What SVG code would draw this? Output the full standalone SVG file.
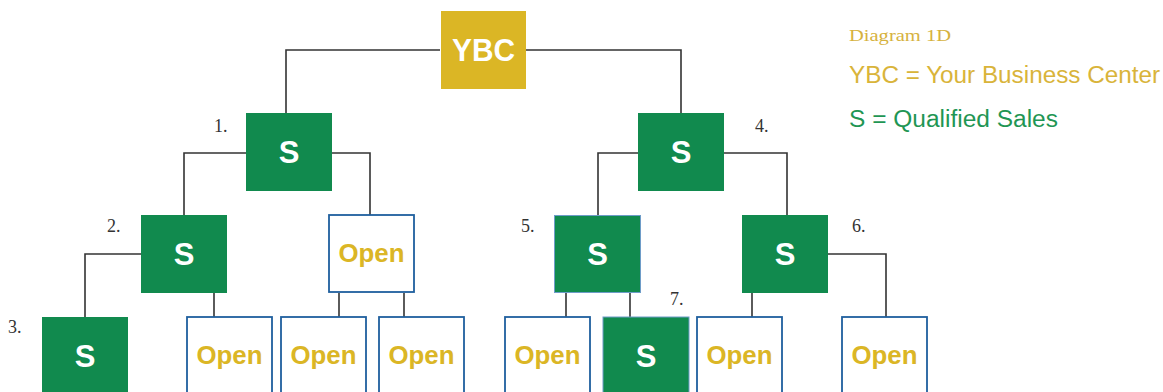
<svg xmlns="http://www.w3.org/2000/svg" width="1163" height="392" viewBox="0 0 1163 392">
  <style>
    .wire { fill: none; stroke: #333333; stroke-width: 1.6; }
    .ybc { fill: #DBB625; }
    .sale { fill: #118A4E; }
    .sale-edge { fill: #118A4E; stroke: #6E9CC8; stroke-width: 1; }
    .open { fill: #FFFFFF; stroke: #1F5F9E; stroke-width: 1.8; }
    .lbl-w { font-family: "Liberation Sans", Arial, sans-serif; font-weight: bold; fill: #FFFFFF; text-anchor: middle; }
    .lbl-o { font-family: "Liberation Sans", Arial, sans-serif; font-weight: bold; fill: #DBB625; text-anchor: middle; font-size: 26px; }
    .num { font-family: "Liberation Serif", "Times New Roman", serif; font-size: 18px; fill: #333333; }
    .legend { font-family: "Liberation Sans", Arial, sans-serif; font-size: 23px; }
  </style>

  <!-- connectors -->
  <g id="connectors">
    <path class="wire" d="M440,50 H286 V113"/>
    <path class="wire" d="M526,50 H681 V113"/>
    <path class="wire" d="M246,153 H184 V215"/>
    <path class="wire" d="M332,153 H370 V215"/>
    <path class="wire" d="M638,153 H598 V215"/>
    <path class="wire" d="M724,153 H787 V215"/>
    <path class="wire" d="M141,254 H85 V317"/>
    <path class="wire" d="M214,293 V317"/>
    <path class="wire" d="M339,293 V317"/>
    <path class="wire" d="M404,293 V317"/>
    <path class="wire" d="M566,293 V317"/>
    <path class="wire" d="M630,293 V317"/>
    <path class="wire" d="M828,254 H886 V317"/>
    <path class="wire" d="M752,293 V317"/>
  </g>

  <!-- root -->
  <g id="ybc">
    <rect class="ybc" x="441" y="11" width="85" height="78"/>
    <text class="lbl-w" x="483.5" y="61" font-size="32" textLength="63" lengthAdjust="spacingAndGlyphs">YBC</text>
  </g>

  <!-- level 1 -->
  <g id="s1">
    <rect class="sale" x="246" y="113" width="86" height="78"/>
    <text class="lbl-w" x="289" y="163" font-size="31">S</text>
  </g>
  <g id="s4">
    <rect class="sale" x="638" y="113" width="86" height="78"/>
    <text class="lbl-w" x="681" y="163" font-size="31">S</text>
  </g>

  <!-- level 2 -->
  <g id="s2">
    <rect class="sale" x="141" y="215" width="86" height="78"/>
    <text class="lbl-w" x="184" y="265" font-size="31">S</text>
  </g>
  <g id="open-a">
    <rect class="open" x="329" y="215" width="85" height="77"/>
    <text class="lbl-o" x="371.5" y="262" textLength="66" lengthAdjust="spacingAndGlyphs">Open</text>
  </g>
  <g id="s5">
    <rect class="sale-edge" x="554.5" y="215.5" width="86" height="77"/>
    <text class="lbl-w" x="597.5" y="265" font-size="31">S</text>
  </g>
  <g id="s6">
    <rect class="sale" x="742" y="215" width="86" height="78"/>
    <text class="lbl-w" x="785" y="265" font-size="31">S</text>
  </g>

  <!-- level 3 -->
  <g id="s3">
    <rect class="sale" x="42" y="317" width="86" height="80"/>
    <text class="lbl-w" x="85" y="367" font-size="31">S</text>
  </g>
  <g id="open-b">
    <rect class="open" x="187" y="317" width="85" height="80"/>
    <text class="lbl-o" x="229.5" y="364" textLength="66" lengthAdjust="spacingAndGlyphs">Open</text>
  </g>
  <g id="open-c">
    <rect class="open" x="281" y="317" width="85" height="80"/>
    <text class="lbl-o" x="323.5" y="364" textLength="66" lengthAdjust="spacingAndGlyphs">Open</text>
  </g>
  <g id="open-d">
    <rect class="open" x="379" y="317" width="85" height="80"/>
    <text class="lbl-o" x="421.5" y="364" textLength="66" lengthAdjust="spacingAndGlyphs">Open</text>
  </g>
  <g id="open-e">
    <rect class="open" x="505" y="317" width="85" height="80"/>
    <text class="lbl-o" x="547.5" y="364" textLength="66" lengthAdjust="spacingAndGlyphs">Open</text>
  </g>
  <g id="s7">
    <rect class="sale-edge" x="603" y="317" width="86" height="80"/>
    <text class="lbl-w" x="646" y="367" font-size="31">S</text>
  </g>
  <g id="open-f">
    <rect class="open" x="697" y="317" width="85" height="80"/>
    <text class="lbl-o" x="739.5" y="364" textLength="66" lengthAdjust="spacingAndGlyphs">Open</text>
  </g>
  <g id="open-g">
    <rect class="open" x="842" y="317" width="85" height="80"/>
    <text class="lbl-o" x="884.5" y="364" textLength="66" lengthAdjust="spacingAndGlyphs">Open</text>
  </g>

  <!-- sequence numbers -->
  <g id="numbers">
    <text class="num" x="214" y="132">1.</text>
    <text class="num" x="107" y="232">2.</text>
    <text class="num" x="8" y="333">3.</text>
    <text class="num" x="755" y="132">4.</text>
    <text class="num" x="521" y="232">5.</text>
    <text class="num" x="852" y="232">6.</text>
    <text class="num" x="670" y="305">7.</text>
  </g>

  <!-- key -->
  <g id="legend">
    <text x="849" y="41" font-family="'Liberation Serif', 'Times New Roman', serif" font-size="17" fill="#D6B23E" textLength="102" lengthAdjust="spacingAndGlyphs">Diagram 1D</text>
    <text class="legend" x="849" y="83" fill="#D9B43A" textLength="311" lengthAdjust="spacingAndGlyphs">YBC = Your Business Center</text>
    <text class="legend" x="849" y="127" fill="#1F9654" textLength="209" lengthAdjust="spacingAndGlyphs">S = Qualified Sales</text>
  </g>
</svg>
